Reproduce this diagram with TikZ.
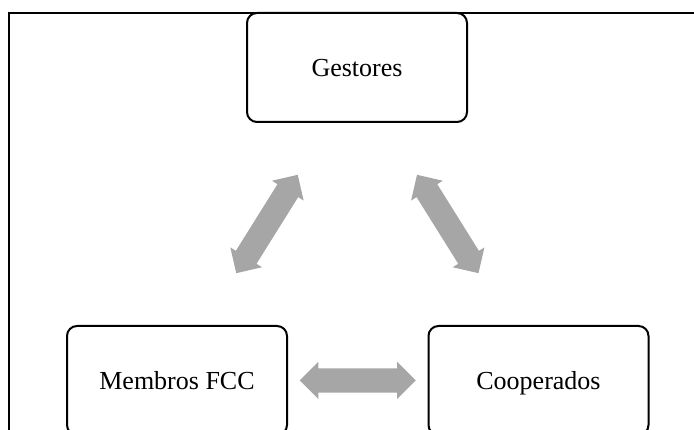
\documentclass[tikz,border=0pt]{standalone}
\usepackage{fontspec}
\setmainfont{Liberation Serif}
\usetikzlibrary{shapes.arrows,calc}
\definecolor{arrowgray}{RGB}{166,166,166}
\begin{document}
\begin{tikzpicture}[x=1pt,y=1pt,
  role/.style={draw=black, line width=2pt, rounded corners=10pt, fill=white,
    minimum width=220pt, minimum height=109pt, inner sep=0pt,
    font=\fontsize{26}{30}\selectfont, text height=17.2pt, text depth=0pt},
  link/.style={double arrow, fill=arrowgray, draw=none,
    inner xsep=0pt, inner ysep=12pt,
    minimum height=116pt, double arrow head extend=6.5pt}]
\useasboundingbox (0,0) rectangle (694,430);
\clip (0,0) rectangle (694,430);
% outer frame: only the top and left edges fall inside the page
\draw[line width=1.3pt] (9,0) -- (9,417) -- (694,417);
% the three groups
\node[role] (ges) at (357,362.5) {Gestores};
\node[role] (mem) at (177,49.5) {Membros FCC};
\node[role] (coo) at (538.5,49.5) {Cooperados};
% two-way links between the groups
\node[link, rotate=58] (mg) at ($(mem)!0.5!(ges)$) {};
\node[link, rotate=-58] (gc) at ($(ges)!0.5!(coo)$) {};
\node[link] (mc) at ($(mem)!0.5!(coo)$) {};
\end{tikzpicture}
\end{document}
